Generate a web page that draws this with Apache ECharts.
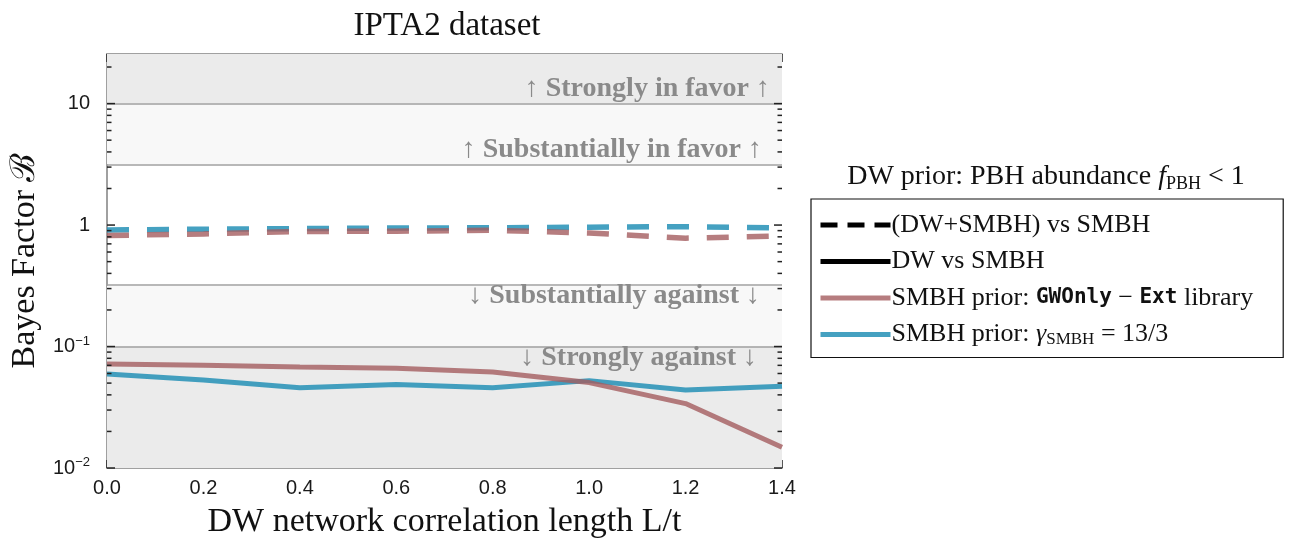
<!DOCTYPE html>
<html>
<head>
<meta charset="utf-8">
<script src="https://cdn.jsdelivr.net/npm/echarts@6/dist/echarts.min.js"></script>
<style>
html,body{margin:0;padding:0;background:#fff;}
#chart{width:1299px;height:544px;}
</style>
</head>
<body>
<div id="chart"></div>
<script>
// ---- data ----
var xValues = [0.0, 0.2, 0.4, 0.6, 0.8, 1.0, 1.2, 1.4];
var redDashed  = [0.82, 0.845, 0.885, 0.89, 0.905, 0.86, 0.78, 0.815];
var blueDashed = [0.91, 0.925, 0.935, 0.945, 0.95, 0.96, 0.97, 0.945];
var redSolid   = [0.0718, 0.0700, 0.0678, 0.0662, 0.0617, 0.0505, 0.0339, 0.0148];
var blueSolid  = [0.0594, 0.0530, 0.0457, 0.0487, 0.0457, 0.0524, 0.0438, 0.0472];

var yTickValues = [0.01, 0.1, 1, 10];
var yTickLabels = ['{b|10}{s|\u22122}', '{b|10}{s|\u22121}', '{b|1}', '{b|10}'];
var xTickLabels = ['0.0', '0.2', '0.4', '0.6', '0.8', '1.0', '1.2', '1.4'];

var bandEdges  = [10, 3.1623, 0.31623, 0.1];
var bandLabels = ['\u2191 Strongly in favor \u2191', '\u2191 Substantially in favor \u2191',
                  '\u2193 Substantially against \u2193', '\u2193 Strongly against \u2193'];

var legendNames = ['(DW+SMBH) vs SMBH', 'DW vs SMBH',
                   'SMBH prior: GWOnly \u2212 Ext library', 'SMBH prior: \u03b3SMBH = 13/3'];

var yMin = 0.01, yMax = 25.6;
var xMin = 0, xMax = 1.4;

// ---- helpers ----
function pairs(ys) { return xValues.map(function (x, i) { return [x, ys[i]]; }); }
var yTickMarks = [];
[0.01, 0.1, 1, 10].forEach(function (d) {
  yTickMarks.push([0, d, 1]);
  for (var k = 2; k <= 9; k++) { var v = k * d; if (v <= yMax) yTickMarks.push([0, v, 0]); }
});

var SERIF = "'Liberation Serif', 'DejaVu Serif', serif";
var SANS = "'Liberation Sans', Arial, sans-serif";
var RED = '#a45c5f', BLUE = '#2490b6';
var frame = {show: true, lineStyle: {color: '#a0a0a0', width: 2}};
var TICK = '#222';
var bandLabelDist = [[12, 1], [20, 1], [22, -3], [25, -3]];

var chart = echarts.init(document.getElementById('chart'), null, {renderer: 'canvas'});

var option = {
  animation: false,
  backgroundColor: '#ffffff',
  title: [
    {text: 'IPTA2 dataset', left: 442, top: 5, textAlign: 'center',
     textStyle: {fontFamily: SERIF, fontSize: 33, fontWeight: 'normal', color: '#111'}},
    {text: '{n|DW prior: PBH abundance }{i|f}{sub|PBH}{n| < 1}', left: 1041, top: 156, textAlign: 'center',
     textStyle: {fontWeight: 'normal', rich: {
       n: {fontFamily: SERIF, fontSize: 28, fontWeight: 'normal', color: '#111', lineHeight: 32, verticalAlign: 'middle'},
       i: {fontFamily: SERIF, fontSize: 28, fontWeight: 'normal', fontStyle: 'italic', color: '#111', lineHeight: 32, verticalAlign: 'middle'},
       sub: {fontFamily: SERIF, fontSize: 18, fontWeight: 'normal', color: '#111', lineHeight: 18, verticalAlign: 'bottom'}
     }}}
  ],
  grid: {left: 107, right: 517, top: 54, bottom: 73, containLabel: false},
  legend: {
    orient: 'vertical', left: 811, top: 199,
    padding: [13, 30, 9, 7],
    borderColor: '#111', borderWidth: 1.2, borderRadius: 0,
    backgroundColor: '#fff',
    itemWidth: 70, itemHeight: 14, itemGap: 10.5,
    selectedMode: false,
    data: legendNames,
    itemStyle: {opacity: 0},
    lineStyle: {width: 5},
    formatter: function (name) {
      if (name === legendNames[2]) return '{a|SMBH prior: }{m|GWOnly}{a| \u2212 }{m|Ext}{a| library}';
      if (name === legendNames[3]) return '{a|SMBH prior: }{g|\u03b3}{sub|SMBH}{a| = 13/3}';
      return '{a|' + name + '}';
    },
    textStyle: {
      padding: [0, 0, 0, -4],
      rich: {
        a: {fontFamily: SERIF, fontSize: 26, color: '#111', lineHeight: 28, verticalAlign: 'middle'},
        m: {fontFamily: "'DejaVu Sans Mono', 'Liberation Mono', monospace", fontSize: 21, fontWeight: 'bold', color: '#111', lineHeight: 28, verticalAlign: 'middle'},
        g: {fontFamily: SERIF, fontSize: 26, fontStyle: 'italic', color: '#111', lineHeight: 28, verticalAlign: 'middle'},
        sub: {fontFamily: SERIF, fontSize: 17, color: '#111', lineHeight: 17, verticalAlign: 'bottom'}
      }
    }
  },
  xAxis: [
    {type: 'value', min: xMin, max: xMax, interval: 0.2, position: 'bottom',
     name: 'DW network correlation length L/t', nameLocation: 'middle', nameGap: 37,
     nameTextStyle: {fontFamily: SERIF, fontSize: 34, color: '#111'},
     axisLine: frame,
     axisTick: {inside: true, length: 8, lineStyle: {color: TICK, width: 1.5}},
     minorTick: {show: true, splitNumber: 4, length: 4.5, lineStyle: {color: TICK, width: 1.5}},
     splitLine: {show: false},
     axisLabel: {margin: 10, fontFamily: SANS, fontSize: 20, color: '#1a1a1a',
       formatter: function (v) { var i = Math.round(v / 0.2); return xTickLabels[i] || ''; }}},
    {type: 'value', min: xMin, max: xMax, interval: 0.2, position: 'top',
     axisLine: frame,
     axisTick: {inside: true, length: 8, lineStyle: {color: TICK, width: 1.5}},
     minorTick: {show: true, splitNumber: 4, length: 4.5, lineStyle: {color: TICK, width: 1.5}},
     splitLine: {show: false}, axisLabel: {show: false}}
  ],
  yAxis: [
    {type: 'log', logBase: 10, min: yMin, max: yMax, position: 'left',
     name: 'Bayes Factor \u212C', nameLocation: 'middle', nameGap: 50,
     nameTextStyle: {fontFamily: SERIF, fontSize: 34, color: '#111'},
     axisLine: frame,
     axisTick: {show: false},
     splitLine: {show: false},
     axisLabel: {margin: 17, showMaxLabel: false,
       formatter: function (v) {
         for (var i = 0; i < yTickValues.length; i++) {
           if (Math.abs(Math.log10(v) - Math.log10(yTickValues[i])) < 1e-6) return yTickLabels[i];
         }
         return '';
       },
       rich: {
         b: {fontFamily: SANS, fontSize: 20, color: '#1a1a1a', lineHeight: 24, verticalAlign: 'middle'},
         s: {fontFamily: SANS, fontSize: 13, color: '#1a1a1a', lineHeight: 13, verticalAlign: 'top'}
       }}},
    {type: 'log', logBase: 10, min: yMin, max: yMax, position: 'right',
     axisLine: frame, axisTick: {show: false},
     splitLine: {show: false}, axisLabel: {show: false}}
  ],
  series: [
    {
      name: 'bands', type: 'line', data: [], silent: true, z: 1,
      markArea: {
        silent: true,
        data: [
          [{yAxis: bandEdges[0], itemStyle: {color: '#ebebeb'}}, {yAxis: yMax}],
          [{yAxis: bandEdges[1], itemStyle: {color: '#f8f8f8'}}, {yAxis: bandEdges[0]}],
          [{yAxis: bandEdges[3], itemStyle: {color: '#f8f8f8'}}, {yAxis: bandEdges[2]}],
          [{yAxis: yMin, itemStyle: {color: '#ebebeb'}}, {yAxis: bandEdges[3]}]
        ]
      },
      markLine: {
        silent: true, symbol: 'none',
        lineStyle: {color: '#a0a0a0', width: 1.5, type: 'solid'},
        label: {fontFamily: SERIF, fontSize: 28, fontWeight: 'bold', color: '#8a8a8a'},
        data: bandEdges.map(function (v, i) {
          return {yAxis: v, label: {formatter: bandLabels[i],
            position: i < 2 ? 'insideEndTop' : 'insideEndBottom',
            distance: bandLabelDist[i]}};
        })
      }
    },
    {
      name: 'yTicks', type: 'custom', data: yTickMarks, silent: true, z: 5,
      renderItem: function (params, api) {
        var v = api.value(1);
        var len = api.value(2) ? 8 : 4.5;
        var pl = api.coord([xMin, v]);
        var pr = api.coord([xMax, v]);
        var st = {stroke: TICK, lineWidth: 1.5};
        return {type: 'group', children: [
          {type: 'line', shape: {x1: pl[0], y1: pl[1], x2: pl[0] + len, y2: pl[1]}, style: st},
          {type: 'line', shape: {x1: pr[0], y1: pr[1], x2: pr[0] - len, y2: pr[1]}, style: st}
        ]};
      }
    },
    {name: legendNames[0], type: 'line', data: [], symbol: 'none',
     lineStyle: {color: '#000', width: 5, type: [17, 10]}, itemStyle: {color: '#000'}},
    {name: legendNames[1], type: 'line', data: [], symbol: 'none',
     lineStyle: {color: '#000', width: 5}, itemStyle: {color: '#000'}},
    {name: 'blueDashed', type: 'line', data: pairs(blueDashed), symbol: 'none', z: 3,
     lineStyle: {color: BLUE, width: 5.5, opacity: 0.85, type: [22, 18], cap: 'butt'}},
    {name: 'redDashed', type: 'line', data: pairs(redDashed), symbol: 'none', z: 3,
     lineStyle: {color: RED, width: 5.5, opacity: 0.8, type: [22, 18], cap: 'butt'}},
    {name: legendNames[3], type: 'line', data: pairs(blueSolid), symbol: 'none', z: 3,
     lineStyle: {color: BLUE, width: 5, opacity: 0.85}, itemStyle: {color: BLUE}},
    {name: legendNames[2], type: 'line', data: pairs(redSolid), symbol: 'none', z: 3,
     lineStyle: {color: RED, width: 5, opacity: 0.8}, itemStyle: {color: RED}}
  ]
};
chart.setOption(option);
</script>
</body>
</html>
